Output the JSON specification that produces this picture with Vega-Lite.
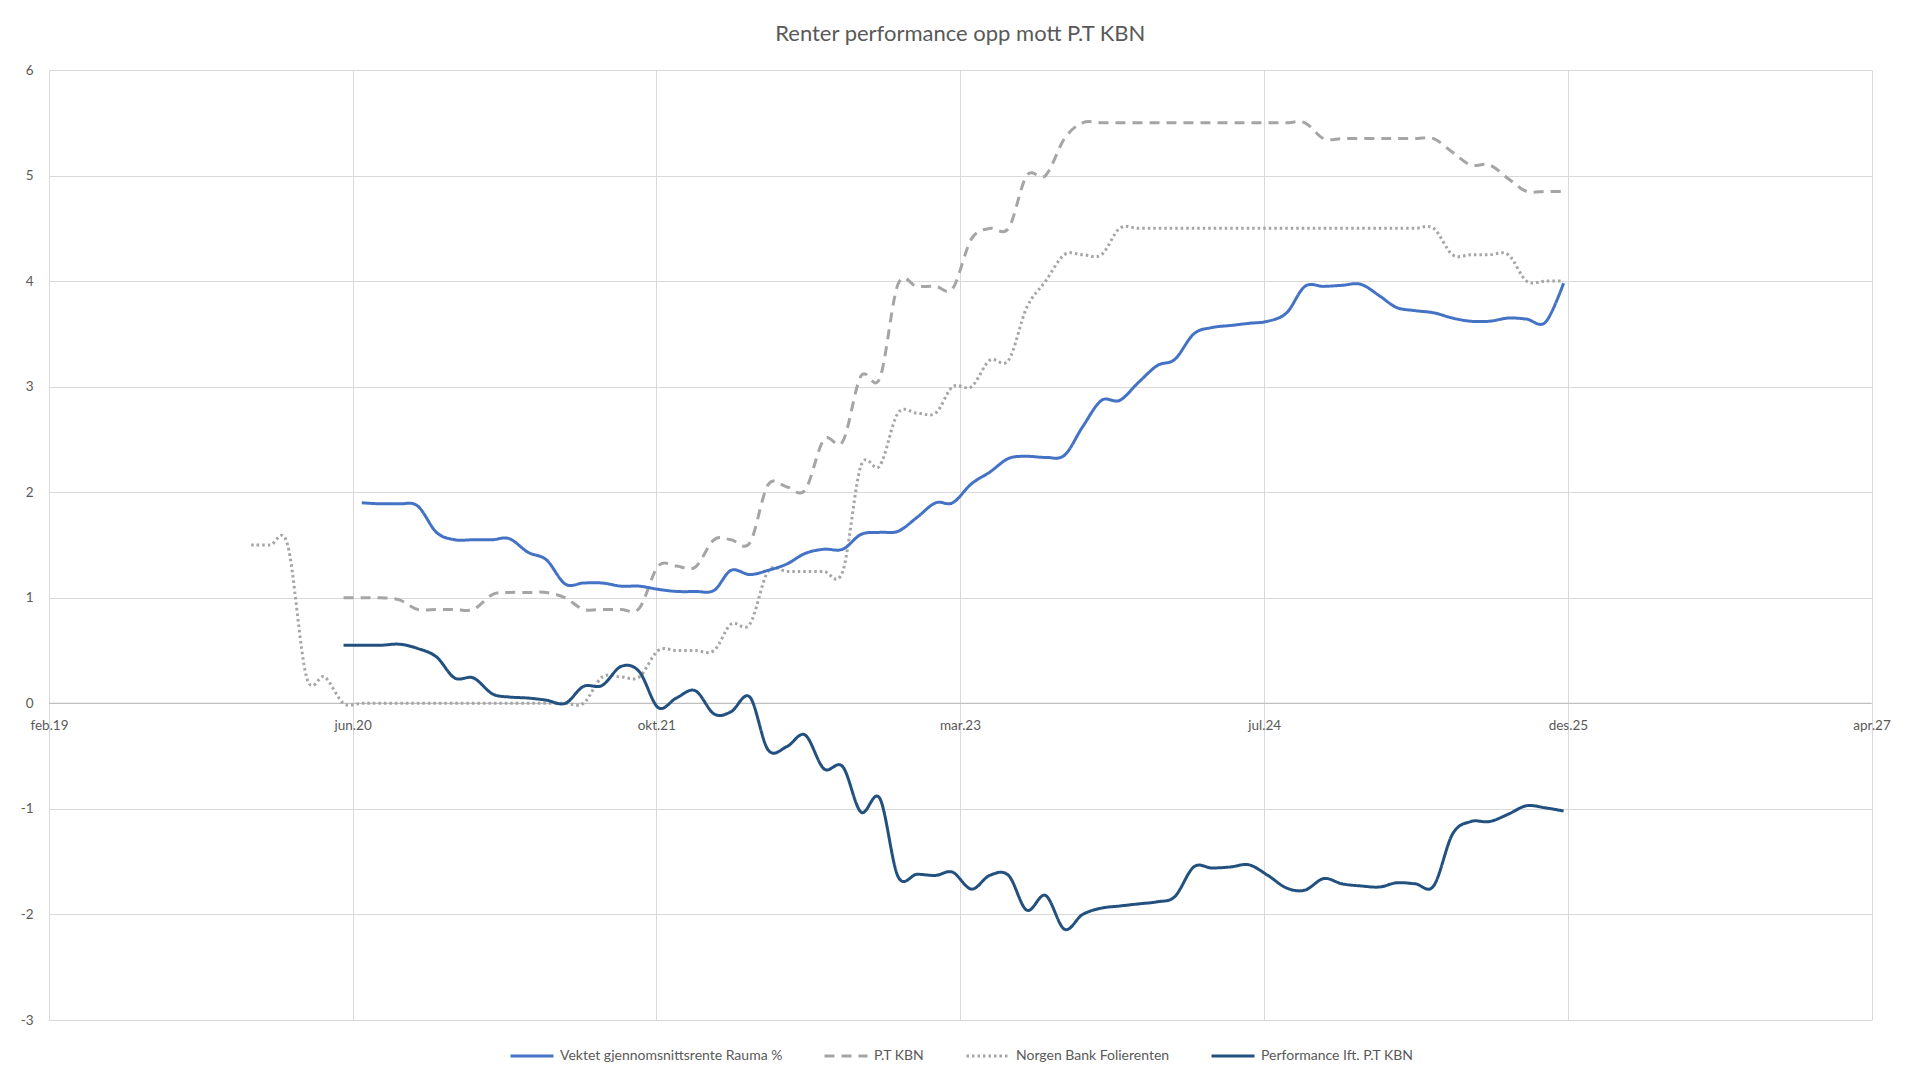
{
"$schema": "https://vega.github.io/schema/vega-lite/v6.json",
"width": 1822.5,
"height": 950,
"autosize": {"type": "none"},
"padding": {"left": 49, "top": 70, "right": 51.5, "bottom": 55},
"background": "white",
"config": {"view": {"stroke": null}, "font": "Lato"},
"title": {"text": "Renter performance opp mott P.T KBN", "font": "Lato", "fontSize": 22, "fontWeight": "normal", "color": "#595959", "anchor": "middle", "frame": "group", "offset": 17},
"data": {"values": [
{"d":"2019-12-31","s":"Norgen Bank Folierenten","v":1.5},
{"d":"2020-01-31","s":"Norgen Bank Folierenten","v":1.5},
{"d":"2020-02-29","s":"Norgen Bank Folierenten","v":1.5},
{"d":"2020-03-31","s":"Norgen Bank Folierenten","v":0.25},
{"d":"2020-04-30","s":"Norgen Bank Folierenten","v":0.25},
{"d":"2020-05-31","s":"Norgen Bank Folierenten","v":0},
{"d":"2020-06-30","s":"Norgen Bank Folierenten","v":0},
{"d":"2020-07-31","s":"Norgen Bank Folierenten","v":0},
{"d":"2020-08-31","s":"Norgen Bank Folierenten","v":0},
{"d":"2020-09-30","s":"Norgen Bank Folierenten","v":0},
{"d":"2020-10-31","s":"Norgen Bank Folierenten","v":0},
{"d":"2020-11-30","s":"Norgen Bank Folierenten","v":0},
{"d":"2020-12-31","s":"Norgen Bank Folierenten","v":0},
{"d":"2021-01-31","s":"Norgen Bank Folierenten","v":0},
{"d":"2021-02-28","s":"Norgen Bank Folierenten","v":0},
{"d":"2021-03-31","s":"Norgen Bank Folierenten","v":0},
{"d":"2021-04-30","s":"Norgen Bank Folierenten","v":0},
{"d":"2021-05-31","s":"Norgen Bank Folierenten","v":0},
{"d":"2021-06-30","s":"Norgen Bank Folierenten","v":0},
{"d":"2021-07-31","s":"Norgen Bank Folierenten","v":0.25},
{"d":"2021-08-31","s":"Norgen Bank Folierenten","v":0.25},
{"d":"2021-09-30","s":"Norgen Bank Folierenten","v":0.25},
{"d":"2021-10-31","s":"Norgen Bank Folierenten","v":0.5},
{"d":"2021-11-30","s":"Norgen Bank Folierenten","v":0.5},
{"d":"2021-12-31","s":"Norgen Bank Folierenten","v":0.5},
{"d":"2022-01-31","s":"Norgen Bank Folierenten","v":0.5},
{"d":"2022-02-28","s":"Norgen Bank Folierenten","v":0.75},
{"d":"2022-03-31","s":"Norgen Bank Folierenten","v":0.75},
{"d":"2022-04-30","s":"Norgen Bank Folierenten","v":1.25},
{"d":"2022-05-31","s":"Norgen Bank Folierenten","v":1.25},
{"d":"2022-06-30","s":"Norgen Bank Folierenten","v":1.25},
{"d":"2022-07-31","s":"Norgen Bank Folierenten","v":1.25},
{"d":"2022-08-31","s":"Norgen Bank Folierenten","v":1.25},
{"d":"2022-09-30","s":"Norgen Bank Folierenten","v":2.25},
{"d":"2022-10-31","s":"Norgen Bank Folierenten","v":2.25},
{"d":"2022-11-30","s":"Norgen Bank Folierenten","v":2.75},
{"d":"2022-12-31","s":"Norgen Bank Folierenten","v":2.75},
{"d":"2023-01-31","s":"Norgen Bank Folierenten","v":2.75},
{"d":"2023-02-28","s":"Norgen Bank Folierenten","v":3.0},
{"d":"2023-03-31","s":"Norgen Bank Folierenten","v":3.0},
{"d":"2023-04-30","s":"Norgen Bank Folierenten","v":3.25},
{"d":"2023-05-31","s":"Norgen Bank Folierenten","v":3.25},
{"d":"2023-06-30","s":"Norgen Bank Folierenten","v":3.75},
{"d":"2023-07-31","s":"Norgen Bank Folierenten","v":4.0},
{"d":"2023-08-31","s":"Norgen Bank Folierenten","v":4.25},
{"d":"2023-09-30","s":"Norgen Bank Folierenten","v":4.25},
{"d":"2023-10-31","s":"Norgen Bank Folierenten","v":4.25},
{"d":"2023-11-30","s":"Norgen Bank Folierenten","v":4.5},
{"d":"2023-12-31","s":"Norgen Bank Folierenten","v":4.5},
{"d":"2024-01-31","s":"Norgen Bank Folierenten","v":4.5},
{"d":"2024-02-29","s":"Norgen Bank Folierenten","v":4.5},
{"d":"2024-03-31","s":"Norgen Bank Folierenten","v":4.5},
{"d":"2024-04-30","s":"Norgen Bank Folierenten","v":4.5},
{"d":"2024-05-31","s":"Norgen Bank Folierenten","v":4.5},
{"d":"2024-06-30","s":"Norgen Bank Folierenten","v":4.5},
{"d":"2024-07-31","s":"Norgen Bank Folierenten","v":4.5},
{"d":"2024-08-31","s":"Norgen Bank Folierenten","v":4.5},
{"d":"2024-09-30","s":"Norgen Bank Folierenten","v":4.5},
{"d":"2024-10-31","s":"Norgen Bank Folierenten","v":4.5},
{"d":"2024-11-30","s":"Norgen Bank Folierenten","v":4.5},
{"d":"2024-12-31","s":"Norgen Bank Folierenten","v":4.5},
{"d":"2025-01-31","s":"Norgen Bank Folierenten","v":4.5},
{"d":"2025-02-28","s":"Norgen Bank Folierenten","v":4.5},
{"d":"2025-03-31","s":"Norgen Bank Folierenten","v":4.5},
{"d":"2025-04-30","s":"Norgen Bank Folierenten","v":4.5},
{"d":"2025-05-31","s":"Norgen Bank Folierenten","v":4.25},
{"d":"2025-06-30","s":"Norgen Bank Folierenten","v":4.25},
{"d":"2025-07-31","s":"Norgen Bank Folierenten","v":4.25},
{"d":"2025-08-31","s":"Norgen Bank Folierenten","v":4.25},
{"d":"2025-09-30","s":"Norgen Bank Folierenten","v":4.0},
{"d":"2025-10-31","s":"Norgen Bank Folierenten","v":4.0},
{"d":"2025-11-30","s":"Norgen Bank Folierenten","v":4.0},
{"d":"2020-05-31","s":"P.T KBN","v":1.0},
{"d":"2020-06-30","s":"P.T KBN","v":1.0},
{"d":"2020-07-31","s":"P.T KBN","v":1.0},
{"d":"2020-08-31","s":"P.T KBN","v":0.98},
{"d":"2020-09-30","s":"P.T KBN","v":0.89},
{"d":"2020-10-31","s":"P.T KBN","v":0.89},
{"d":"2020-11-30","s":"P.T KBN","v":0.89},
{"d":"2020-12-31","s":"P.T KBN","v":0.89},
{"d":"2021-01-31","s":"P.T KBN","v":1.03},
{"d":"2021-02-28","s":"P.T KBN","v":1.05},
{"d":"2021-03-31","s":"P.T KBN","v":1.05},
{"d":"2021-04-30","s":"P.T KBN","v":1.05},
{"d":"2021-05-31","s":"P.T KBN","v":1.0},
{"d":"2021-06-30","s":"P.T KBN","v":0.89},
{"d":"2021-07-31","s":"P.T KBN","v":0.89},
{"d":"2021-08-31","s":"P.T KBN","v":0.89},
{"d":"2021-09-30","s":"P.T KBN","v":0.9},
{"d":"2021-10-31","s":"P.T KBN","v":1.3},
{"d":"2021-11-30","s":"P.T KBN","v":1.3},
{"d":"2021-12-31","s":"P.T KBN","v":1.29},
{"d":"2022-01-31","s":"P.T KBN","v":1.55},
{"d":"2022-02-28","s":"P.T KBN","v":1.55},
{"d":"2022-03-31","s":"P.T KBN","v":1.52},
{"d":"2022-04-30","s":"P.T KBN","v":2.07},
{"d":"2022-05-31","s":"P.T KBN","v":2.05},
{"d":"2022-06-30","s":"P.T KBN","v":2.02},
{"d":"2022-07-31","s":"P.T KBN","v":2.5},
{"d":"2022-08-31","s":"P.T KBN","v":2.48},
{"d":"2022-09-30","s":"P.T KBN","v":3.1},
{"d":"2022-10-31","s":"P.T KBN","v":3.08},
{"d":"2022-11-30","s":"P.T KBN","v":3.97},
{"d":"2022-12-31","s":"P.T KBN","v":3.95},
{"d":"2023-01-31","s":"P.T KBN","v":3.95},
{"d":"2023-02-28","s":"P.T KBN","v":3.93},
{"d":"2023-03-31","s":"P.T KBN","v":4.4},
{"d":"2023-04-30","s":"P.T KBN","v":4.5},
{"d":"2023-05-31","s":"P.T KBN","v":4.5},
{"d":"2023-06-30","s":"P.T KBN","v":5.0},
{"d":"2023-07-31","s":"P.T KBN","v":5.0},
{"d":"2023-08-31","s":"P.T KBN","v":5.35},
{"d":"2023-09-30","s":"P.T KBN","v":5.5},
{"d":"2023-10-31","s":"P.T KBN","v":5.5},
{"d":"2023-11-30","s":"P.T KBN","v":5.5},
{"d":"2023-12-31","s":"P.T KBN","v":5.5},
{"d":"2024-01-31","s":"P.T KBN","v":5.5},
{"d":"2024-02-29","s":"P.T KBN","v":5.5},
{"d":"2024-03-31","s":"P.T KBN","v":5.5},
{"d":"2024-04-30","s":"P.T KBN","v":5.5},
{"d":"2024-05-31","s":"P.T KBN","v":5.5},
{"d":"2024-06-30","s":"P.T KBN","v":5.5},
{"d":"2024-07-31","s":"P.T KBN","v":5.5},
{"d":"2024-08-31","s":"P.T KBN","v":5.5},
{"d":"2024-09-30","s":"P.T KBN","v":5.5},
{"d":"2024-10-31","s":"P.T KBN","v":5.35},
{"d":"2024-11-30","s":"P.T KBN","v":5.35},
{"d":"2024-12-31","s":"P.T KBN","v":5.35},
{"d":"2025-01-31","s":"P.T KBN","v":5.35},
{"d":"2025-02-28","s":"P.T KBN","v":5.35},
{"d":"2025-03-31","s":"P.T KBN","v":5.35},
{"d":"2025-04-30","s":"P.T KBN","v":5.35},
{"d":"2025-05-31","s":"P.T KBN","v":5.22},
{"d":"2025-06-30","s":"P.T KBN","v":5.1},
{"d":"2025-07-31","s":"P.T KBN","v":5.1},
{"d":"2025-08-31","s":"P.T KBN","v":4.97},
{"d":"2025-09-30","s":"P.T KBN","v":4.85},
{"d":"2025-10-31","s":"P.T KBN","v":4.85},
{"d":"2025-11-30","s":"P.T KBN","v":4.85},
{"d":"2020-06-30","s":"Vektet gjennomsnittsrente Rauma %","v":1.9},
{"d":"2020-07-31","s":"Vektet gjennomsnittsrente Rauma %","v":1.89},
{"d":"2020-08-31","s":"Vektet gjennomsnittsrente Rauma %","v":1.89},
{"d":"2020-09-30","s":"Vektet gjennomsnittsrente Rauma %","v":1.87},
{"d":"2020-10-31","s":"Vektet gjennomsnittsrente Rauma %","v":1.62},
{"d":"2020-11-30","s":"Vektet gjennomsnittsrente Rauma %","v":1.55},
{"d":"2020-12-31","s":"Vektet gjennomsnittsrente Rauma %","v":1.55},
{"d":"2021-01-31","s":"Vektet gjennomsnittsrente Rauma %","v":1.55},
{"d":"2021-02-28","s":"Vektet gjennomsnittsrente Rauma %","v":1.56},
{"d":"2021-03-31","s":"Vektet gjennomsnittsrente Rauma %","v":1.43},
{"d":"2021-04-30","s":"Vektet gjennomsnittsrente Rauma %","v":1.36},
{"d":"2021-05-31","s":"Vektet gjennomsnittsrente Rauma %","v":1.13},
{"d":"2021-06-30","s":"Vektet gjennomsnittsrente Rauma %","v":1.14},
{"d":"2021-07-31","s":"Vektet gjennomsnittsrente Rauma %","v":1.14},
{"d":"2021-08-31","s":"Vektet gjennomsnittsrente Rauma %","v":1.11},
{"d":"2021-09-30","s":"Vektet gjennomsnittsrente Rauma %","v":1.11},
{"d":"2021-10-31","s":"Vektet gjennomsnittsrente Rauma %","v":1.08},
{"d":"2021-11-30","s":"Vektet gjennomsnittsrente Rauma %","v":1.06},
{"d":"2021-12-31","s":"Vektet gjennomsnittsrente Rauma %","v":1.06},
{"d":"2022-01-31","s":"Vektet gjennomsnittsrente Rauma %","v":1.07},
{"d":"2022-02-28","s":"Vektet gjennomsnittsrente Rauma %","v":1.26},
{"d":"2022-03-31","s":"Vektet gjennomsnittsrente Rauma %","v":1.22},
{"d":"2022-04-30","s":"Vektet gjennomsnittsrente Rauma %","v":1.26},
{"d":"2022-05-31","s":"Vektet gjennomsnittsrente Rauma %","v":1.32},
{"d":"2022-06-30","s":"Vektet gjennomsnittsrente Rauma %","v":1.42},
{"d":"2022-07-31","s":"Vektet gjennomsnittsrente Rauma %","v":1.46},
{"d":"2022-08-31","s":"Vektet gjennomsnittsrente Rauma %","v":1.46},
{"d":"2022-09-30","s":"Vektet gjennomsnittsrente Rauma %","v":1.6},
{"d":"2022-10-31","s":"Vektet gjennomsnittsrente Rauma %","v":1.62},
{"d":"2022-11-30","s":"Vektet gjennomsnittsrente Rauma %","v":1.63},
{"d":"2022-12-31","s":"Vektet gjennomsnittsrente Rauma %","v":1.76},
{"d":"2023-01-31","s":"Vektet gjennomsnittsrente Rauma %","v":1.9},
{"d":"2023-02-28","s":"Vektet gjennomsnittsrente Rauma %","v":1.9},
{"d":"2023-03-31","s":"Vektet gjennomsnittsrente Rauma %","v":2.08},
{"d":"2023-04-30","s":"Vektet gjennomsnittsrente Rauma %","v":2.19},
{"d":"2023-05-31","s":"Vektet gjennomsnittsrente Rauma %","v":2.32},
{"d":"2023-06-30","s":"Vektet gjennomsnittsrente Rauma %","v":2.34},
{"d":"2023-07-31","s":"Vektet gjennomsnittsrente Rauma %","v":2.33},
{"d":"2023-08-31","s":"Vektet gjennomsnittsrente Rauma %","v":2.35},
{"d":"2023-09-30","s":"Vektet gjennomsnittsrente Rauma %","v":2.62},
{"d":"2023-10-31","s":"Vektet gjennomsnittsrente Rauma %","v":2.87},
{"d":"2023-11-30","s":"Vektet gjennomsnittsrente Rauma %","v":2.87},
{"d":"2023-12-31","s":"Vektet gjennomsnittsrente Rauma %","v":3.04},
{"d":"2024-01-31","s":"Vektet gjennomsnittsrente Rauma %","v":3.2},
{"d":"2024-02-29","s":"Vektet gjennomsnittsrente Rauma %","v":3.26},
{"d":"2024-03-31","s":"Vektet gjennomsnittsrente Rauma %","v":3.5},
{"d":"2024-04-30","s":"Vektet gjennomsnittsrente Rauma %","v":3.56},
{"d":"2024-05-31","s":"Vektet gjennomsnittsrente Rauma %","v":3.58},
{"d":"2024-06-30","s":"Vektet gjennomsnittsrente Rauma %","v":3.6},
{"d":"2024-07-31","s":"Vektet gjennomsnittsrente Rauma %","v":3.62},
{"d":"2024-08-31","s":"Vektet gjennomsnittsrente Rauma %","v":3.7},
{"d":"2024-09-30","s":"Vektet gjennomsnittsrente Rauma %","v":3.95},
{"d":"2024-10-31","s":"Vektet gjennomsnittsrente Rauma %","v":3.95},
{"d":"2024-11-30","s":"Vektet gjennomsnittsrente Rauma %","v":3.96},
{"d":"2024-12-31","s":"Vektet gjennomsnittsrente Rauma %","v":3.97},
{"d":"2025-01-31","s":"Vektet gjennomsnittsrente Rauma %","v":3.86},
{"d":"2025-02-28","s":"Vektet gjennomsnittsrente Rauma %","v":3.75},
{"d":"2025-03-31","s":"Vektet gjennomsnittsrente Rauma %","v":3.72},
{"d":"2025-04-30","s":"Vektet gjennomsnittsrente Rauma %","v":3.7},
{"d":"2025-05-31","s":"Vektet gjennomsnittsrente Rauma %","v":3.65},
{"d":"2025-06-30","s":"Vektet gjennomsnittsrente Rauma %","v":3.62},
{"d":"2025-07-31","s":"Vektet gjennomsnittsrente Rauma %","v":3.62},
{"d":"2025-08-31","s":"Vektet gjennomsnittsrente Rauma %","v":3.65},
{"d":"2025-09-30","s":"Vektet gjennomsnittsrente Rauma %","v":3.64},
{"d":"2025-10-31","s":"Vektet gjennomsnittsrente Rauma %","v":3.61},
{"d":"2025-11-30","s":"Vektet gjennomsnittsrente Rauma %","v":3.98},
{"d":"2020-05-31","s":"Performance Ift. P.T KBN","v":0.55},
{"d":"2020-06-30","s":"Performance Ift. P.T KBN","v":0.55},
{"d":"2020-07-31","s":"Performance Ift. P.T KBN","v":0.55},
{"d":"2020-08-31","s":"Performance Ift. P.T KBN","v":0.56},
{"d":"2020-09-30","s":"Performance Ift. P.T KBN","v":0.52},
{"d":"2020-10-31","s":"Performance Ift. P.T KBN","v":0.44},
{"d":"2020-11-30","s":"Performance Ift. P.T KBN","v":0.24},
{"d":"2020-12-31","s":"Performance Ift. P.T KBN","v":0.24},
{"d":"2021-01-31","s":"Performance Ift. P.T KBN","v":0.09},
{"d":"2021-02-28","s":"Performance Ift. P.T KBN","v":0.06},
{"d":"2021-03-31","s":"Performance Ift. P.T KBN","v":0.05},
{"d":"2021-04-30","s":"Performance Ift. P.T KBN","v":0.03},
{"d":"2021-05-31","s":"Performance Ift. P.T KBN","v":0.0},
{"d":"2021-06-30","s":"Performance Ift. P.T KBN","v":0.16},
{"d":"2021-07-31","s":"Performance Ift. P.T KBN","v":0.17},
{"d":"2021-08-31","s":"Performance Ift. P.T KBN","v":0.35},
{"d":"2021-09-30","s":"Performance Ift. P.T KBN","v":0.3},
{"d":"2021-10-31","s":"Performance Ift. P.T KBN","v":-0.04},
{"d":"2021-11-30","s":"Performance Ift. P.T KBN","v":0.05},
{"d":"2021-12-31","s":"Performance Ift. P.T KBN","v":0.12},
{"d":"2022-01-31","s":"Performance Ift. P.T KBN","v":-0.1},
{"d":"2022-02-28","s":"Performance Ift. P.T KBN","v":-0.08},
{"d":"2022-03-31","s":"Performance Ift. P.T KBN","v":0.06},
{"d":"2022-04-30","s":"Performance Ift. P.T KBN","v":-0.44},
{"d":"2022-05-31","s":"Performance Ift. P.T KBN","v":-0.41},
{"d":"2022-06-30","s":"Performance Ift. P.T KBN","v":-0.3},
{"d":"2022-07-31","s":"Performance Ift. P.T KBN","v":-0.62},
{"d":"2022-08-31","s":"Performance Ift. P.T KBN","v":-0.6},
{"d":"2022-09-30","s":"Performance Ift. P.T KBN","v":-1.03},
{"d":"2022-10-31","s":"Performance Ift. P.T KBN","v":-0.9},
{"d":"2022-11-30","s":"Performance Ift. P.T KBN","v":-1.64},
{"d":"2022-12-31","s":"Performance Ift. P.T KBN","v":-1.62},
{"d":"2023-01-31","s":"Performance Ift. P.T KBN","v":-1.63},
{"d":"2023-02-28","s":"Performance Ift. P.T KBN","v":-1.6},
{"d":"2023-03-31","s":"Performance Ift. P.T KBN","v":-1.76},
{"d":"2023-04-30","s":"Performance Ift. P.T KBN","v":-1.63},
{"d":"2023-05-31","s":"Performance Ift. P.T KBN","v":-1.63},
{"d":"2023-06-30","s":"Performance Ift. P.T KBN","v":-1.96},
{"d":"2023-07-31","s":"Performance Ift. P.T KBN","v":-1.82},
{"d":"2023-08-31","s":"Performance Ift. P.T KBN","v":-2.14},
{"d":"2023-09-30","s":"Performance Ift. P.T KBN","v":-2.0},
{"d":"2023-10-31","s":"Performance Ift. P.T KBN","v":-1.94},
{"d":"2023-11-30","s":"Performance Ift. P.T KBN","v":-1.92},
{"d":"2023-12-31","s":"Performance Ift. P.T KBN","v":-1.9},
{"d":"2024-01-31","s":"Performance Ift. P.T KBN","v":-1.88},
{"d":"2024-02-29","s":"Performance Ift. P.T KBN","v":-1.83},
{"d":"2024-03-31","s":"Performance Ift. P.T KBN","v":-1.55},
{"d":"2024-04-30","s":"Performance Ift. P.T KBN","v":-1.56},
{"d":"2024-05-31","s":"Performance Ift. P.T KBN","v":-1.55},
{"d":"2024-06-30","s":"Performance Ift. P.T KBN","v":-1.53},
{"d":"2024-07-31","s":"Performance Ift. P.T KBN","v":-1.63},
{"d":"2024-08-31","s":"Performance Ift. P.T KBN","v":-1.75},
{"d":"2024-09-30","s":"Performance Ift. P.T KBN","v":-1.77},
{"d":"2024-10-31","s":"Performance Ift. P.T KBN","v":-1.66},
{"d":"2024-11-30","s":"Performance Ift. P.T KBN","v":-1.71},
{"d":"2024-12-31","s":"Performance Ift. P.T KBN","v":-1.73},
{"d":"2025-01-31","s":"Performance Ift. P.T KBN","v":-1.74},
{"d":"2025-02-28","s":"Performance Ift. P.T KBN","v":-1.7},
{"d":"2025-03-31","s":"Performance Ift. P.T KBN","v":-1.71},
{"d":"2025-04-30","s":"Performance Ift. P.T KBN","v":-1.73},
{"d":"2025-05-31","s":"Performance Ift. P.T KBN","v":-1.24},
{"d":"2025-06-30","s":"Performance Ift. P.T KBN","v":-1.12},
{"d":"2025-07-31","s":"Performance Ift. P.T KBN","v":-1.12},
{"d":"2025-08-31","s":"Performance Ift. P.T KBN","v":-1.05},
{"d":"2025-09-30","s":"Performance Ift. P.T KBN","v":-0.97},
{"d":"2025-10-31","s":"Performance Ift. P.T KBN","v":-0.99},
{"d":"2025-11-30","s":"Performance Ift. P.T KBN","v":-1.02}
]},
"layer": [
{
"data": {"values": [{"z": 0}]},
"mark": {"type": "rule", "color": "#BFBFBF", "strokeWidth": 1.3},
"encoding": {"y": {"field": "z", "type": "quantitative"}}
},
{
"mark": {"type": "line", "interpolate": "cardinal", "strokeCap": "butt", "strokeJoin": "round"},
"encoding": {
"x": {"field": "d", "type": "temporal",
 "scale": {"domain": [{"year": 2019, "month": 2, "date": 1}, {"year": 2027, "month": 4, "date": 21}]},
 "axis": {"title": null,
  "values": [{"year": 2019, "month": 2, "date": 1}, {"year": 2020, "month": 6, "date": 15}, {"year": 2021, "month": 10, "date": 28}, {"year": 2023, "month": 3, "date": 12}, {"year": 2024, "month": 7, "date": 25}, {"year": 2025, "month": 12, "date": 7}, {"year": 2027, "month": 4, "date": 21}],
  "labelExpr": "['jan','feb','mar','apr','mai','jun','jul','aug','sep','okt','nov','des'][month(datum.value)] + '.' + timeFormat(datum.value, '%y')",
  "offset": -316.67, "domain": false, "ticks": false, "grid": true, "gridColor": "#D9D9D9", "gridWidth": 1,
  "labelFont": "Lato", "labelFontSize": 13.5, "labelColor": "#595959", "labelPadding": 15, "labelFlush": false, "labelOverlap": false}},
"y": {"field": "v", "type": "quantitative",
 "scale": {"domain": [-3, 6], "nice": false, "zero": false},
 "axis": {"title": null, "values": [-3, -2, -1, 0, 1, 2, 3, 4, 5, 6], "labelExpr": "'' + datum.value", "domain": false, "ticks": false, "grid": true, "gridColor": "#D9D9D9", "gridWidth": 1,
  "labelFont": "Lato", "labelFontSize": 13.5, "labelColor": "#595959", "labelPadding": 16}},
"color": {"field": "s", "type": "nominal",
 "scale": {"domain": ["Vektet gjennomsnittsrente Rauma %", "P.T KBN", "Norgen Bank Folierenten", "Performance Ift. P.T KBN"], "range": ["#4472C4", "#A5A5A5", "#A5A5A5", "#22507F"]},
 "legend": {"title": null, "orient": "none", "legendX": 460, "legendY": 963, "direction": "horizontal", "symbolType": "stroke", "symbolSize": 1849, "symbolStrokeWidth": 3, "labelFont": "Lato", "labelFontSize": 14, "labelColor": "#595959", "labelLimit": 400, "columnPadding": 35, "labelOffset": 5}},
"strokeDash": {"field": "s", "type": "nominal",
 "scale": {"domain": ["Vektet gjennomsnittsrente Rauma %", "P.T KBN", "Norgen Bank Folierenten", "Performance Ift. P.T KBN"], "range": [[1, 0], [10, 7], [2.5, 3], [1, 0]]},
 "legend": {"title": null, "orient": "none", "legendX": 460, "legendY": 963, "direction": "horizontal", "symbolType": "stroke", "symbolSize": 1849, "symbolStrokeWidth": 3, "labelFont": "Lato", "labelFontSize": 14, "labelColor": "#595959", "labelLimit": 400, "columnPadding": 35, "labelOffset": 5}},
"strokeWidth": {"field": "s", "type": "nominal",
 "scale": {"domain": ["Vektet gjennomsnittsrente Rauma %", "P.T KBN", "Norgen Bank Folierenten", "Performance Ift. P.T KBN"], "range": [3, 3, 2.5, 3]},
 "legend": null}
}
}
]
}
